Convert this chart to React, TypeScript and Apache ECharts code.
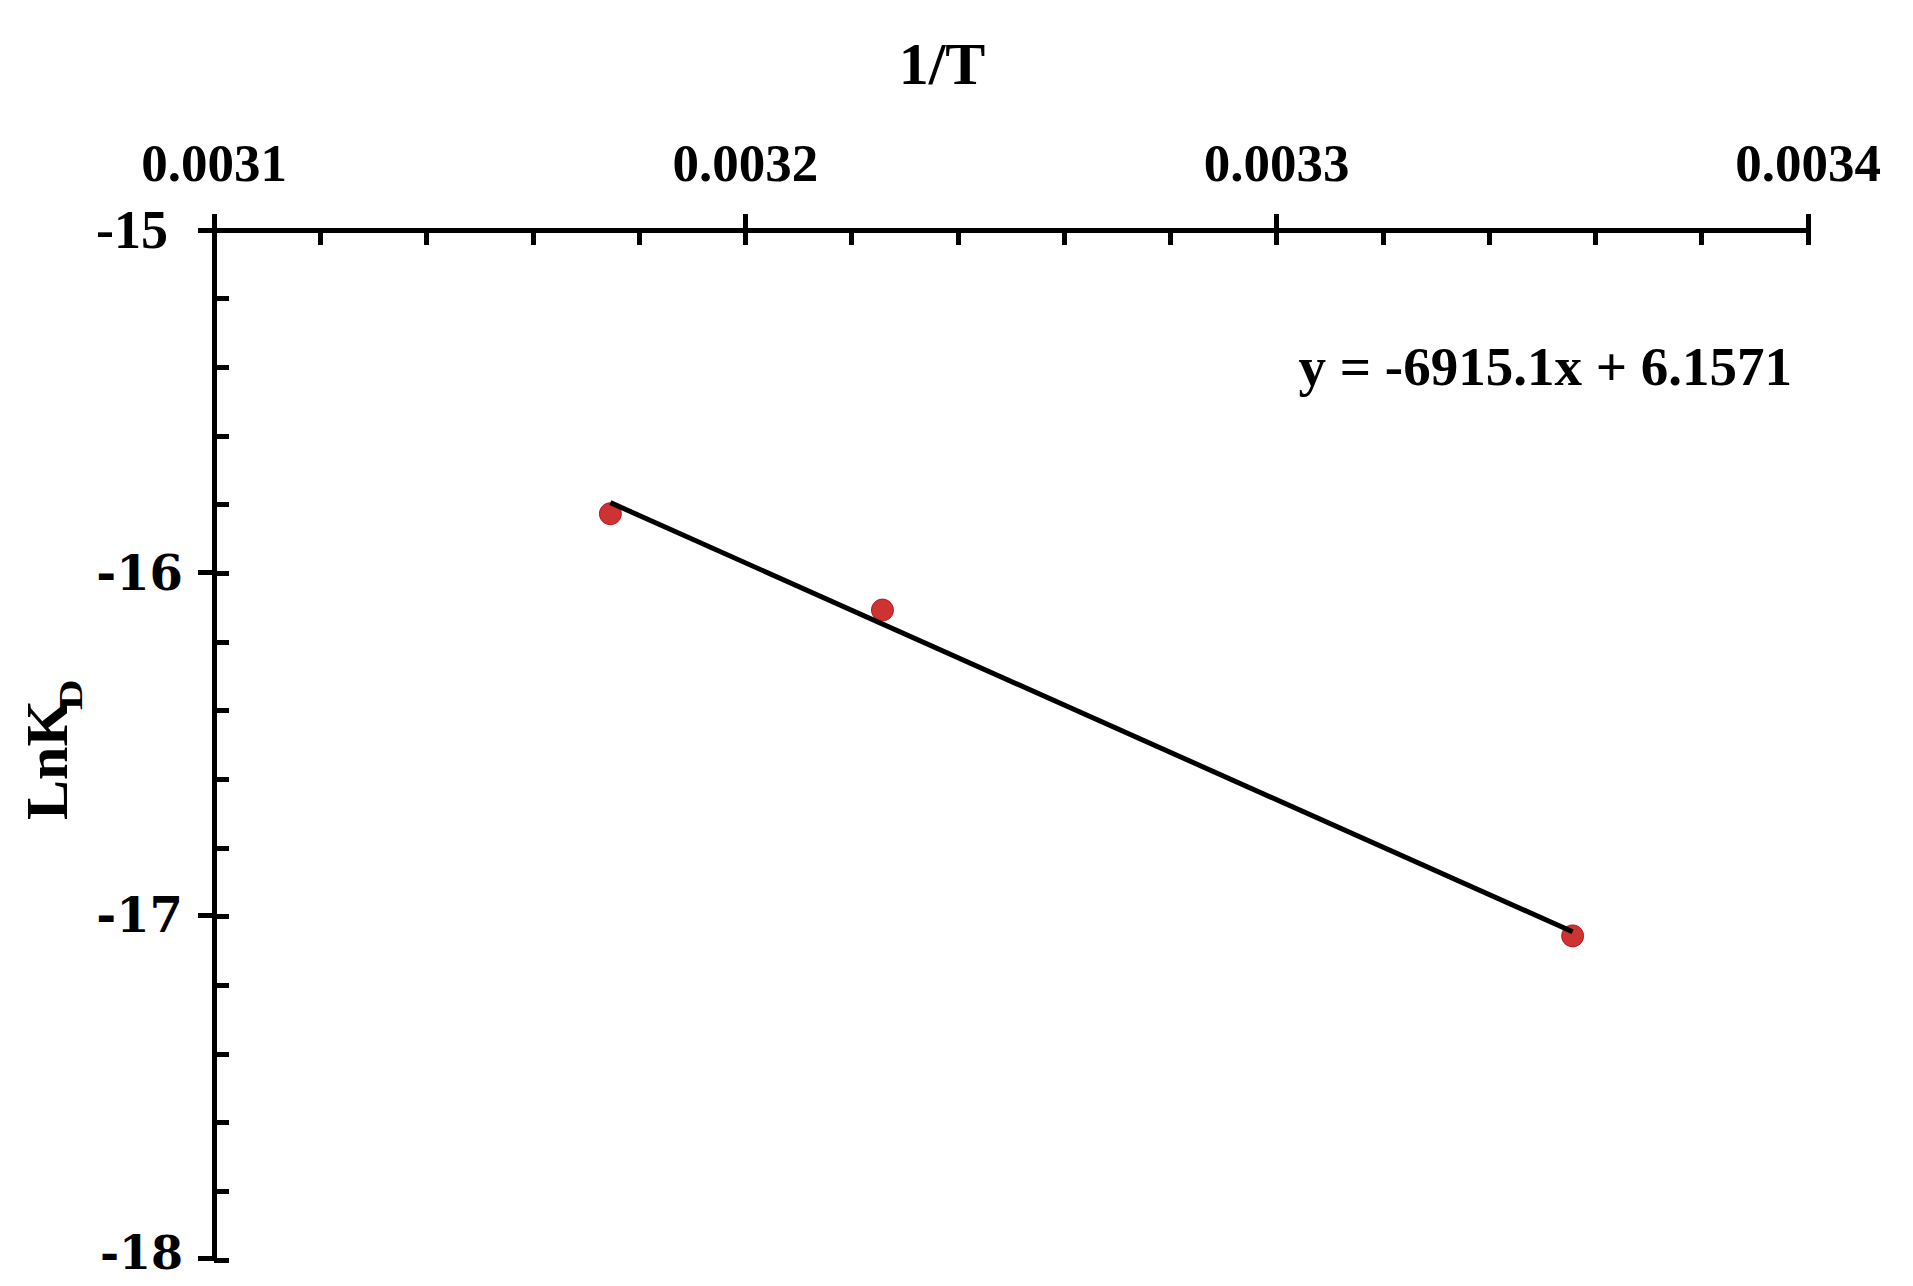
import React, { useEffect, useRef } from "react";
import * as echarts from "echarts";

// Data
const temperaturesK = [315, 310, 298];
const invT = temperaturesK.map((t) => 1 / t); // 1/T values on the x axis
const lnKD = [-15.828, -16.109, -17.06];
const slope = -6915.1;
const intercept = 6.1571;
const equationText = "y = -6915.1x + 6.1571";
const xTitle = "1/T";
const yTitleMain = "LnK";
const yTitleSub = "D";
const xMin = 0.0031;
const xMax = 0.0034;
const xStep = 0.0001;
const yMin = -18;
const yMax = -15;
const yStep = 1;

const SERIF = "'Liberation Serif', 'Times New Roman', serif";
const WIDE_SERIF = "'DejaVu Serif', serif";

export default function App() {
  const ref = useRef<HTMLDivElement>(null);

  useEffect(() => {
    document.body.style.margin = "0";
    if (!ref.current) return;
    const chart = echarts.init(ref.current, undefined, { renderer: "svg" });

    const points = invT.map((x, i) => [x, lnKD[i]]);
    const xs = [Math.min(...invT), Math.max(...invT)];
    const trend = xs.map((x) => [x, slope * x + intercept]);

    const gridPos = { left: 214, top: 230, width: 1594, height: 1030 };
    const lineCol = "#000";

    chart.setOption({
      animation: false,
      backgroundColor: "#fff",
      grid: [
        { ...gridPos, containLabel: false },
        { ...gridPos, containLabel: false },
      ],
      xAxis: [
        {
          type: "value",
          gridIndex: 0,
          position: "top",
          min: xMin,
          max: xMax,
          interval: xStep,
          axisLine: { show: true, onZero: false, lineStyle: { color: lineCol, width: 5 } },
          axisTick: { show: true, inside: false, length: 16, lineStyle: { color: lineCol, width: 5 } },
          splitLine: { show: false },
          axisLabel: {
            show: true,
            margin: 41,
            formatter: (v: number) => v.toFixed(4),
            fontFamily: SERIF,
            fontWeight: "bold",
            fontSize: 53,
            color: "#000",
          },
        },
        {
          type: "value",
          gridIndex: 1,
          position: "top",
          min: xMin,
          max: xMax,
          interval: xStep,
          axisLine: { show: false, onZero: false },
          axisLabel: { show: false },
          splitLine: { show: false },
          axisTick: { show: true, inside: true, length: 15, lineStyle: { color: lineCol, width: 5 } },
          minorTick: { show: true, splitNumber: 5, length: 15, lineStyle: { color: lineCol, width: 5 } },
        },
      ],
      yAxis: [
        {
          type: "value",
          gridIndex: 0,
          position: "left",
          min: yMin,
          max: yMax,
          interval: yStep,
          axisLine: { show: true, onZero: false, lineStyle: { color: lineCol, width: 5 } },
          axisTick: { show: true, inside: false, length: 16, lineStyle: { color: lineCol, width: 5 } },
          splitLine: { show: false },
          axisLabel: {
            show: true,
            margin: 31,
            formatter: (v: number) =>
              v === yMax ? `{a|${v}}` : v === yMin ? `{c|${v}}` : `{b|${v}}`,
            rich: {
              a: {
                fontFamily: SERIF,
                fontWeight: "bold",
                fontSize: 54,
                lineHeight: 44,
                color: "#000",
                padding: [0, 15, 0, 0],
              },
              b: {
                fontFamily: WIDE_SERIF,
                fontWeight: "bold",
                fontSize: 48,
                lineHeight: 40,
                color: "#000",
              },
              c: {
                fontFamily: WIDE_SERIF,
                fontWeight: "bold",
                fontSize: 46,
                lineHeight: 38,
                color: "#000",
                padding: [0, 0, 10, 0],
              },
            },
          },
        },
        {
          type: "value",
          gridIndex: 1,
          position: "left",
          min: yMin,
          max: yMax,
          interval: yStep,
          axisLine: { show: false, onZero: false },
          axisLabel: { show: false },
          splitLine: { show: false },
          axisTick: { show: true, inside: true, length: 15, lineStyle: { color: lineCol, width: 5 } },
          minorTick: { show: true, splitNumber: 5, length: 15, lineStyle: { color: lineCol, width: 5 } },
        },
      ],
      series: [
        {
          type: "scatter",
          xAxisIndex: 0,
          yAxisIndex: 0,
          data: points,
          symbol: "circle",
          symbolSize: 22,
          itemStyle: { color: "#C00000", borderColor: "#B00000", borderWidth: 1 },
          z: 2,
        },
        {
          type: "line",
          xAxisIndex: 0,
          yAxisIndex: 0,
          data: trend,
          showSymbol: false,
          symbol: "none",
          lineStyle: { color: "#000", width: 5 },
          z: 3,
        },
      ],
      graphic: [
        {
          type: "text",
          x: 942,
          y: 64,
          style: {
            text: xTitle,
            fontFamily: SERIF,
            fontWeight: "bold",
            fontSize: 60,
            fill: "#000",
            align: "center",
            verticalAlign: "middle",
          },
        },
        {
          type: "text",
          x: 1792,
          y: 366,
          style: {
            text: equationText,
            fontFamily: SERIF,
            fontWeight: "bold",
            fontSize: 55,
            fill: "#000",
            align: "right",
            verticalAlign: "middle",
          },
        },
        {
          type: "group",
          x: 47,
          y: 820,
          rotation: Math.PI / 2,
          children: [
            {
              type: "text",
              x: 0,
              y: 0,
              style: {
                text: yTitleMain,
                fontFamily: SERIF,
                fontWeight: "bold",
                fontSize: 60,
                fill: "#000",
                align: "left",
                verticalAlign: "middle",
              },
            },
            {
              type: "text",
              x: 110,
              y: 24,
              scaleX: 1.25,
              style: {
                text: yTitleSub,
                fontFamily: SERIF,
                fontWeight: "bold",
                fontSize: 34,
                fill: "#000",
                align: "left",
                verticalAlign: "middle",
              },
            },
          ],
        },
      ],
    });

    return () => chart.dispose();
  }, []);

  return <div ref={ref} style={{ width: 1913, height: 1286 }} />;
}
